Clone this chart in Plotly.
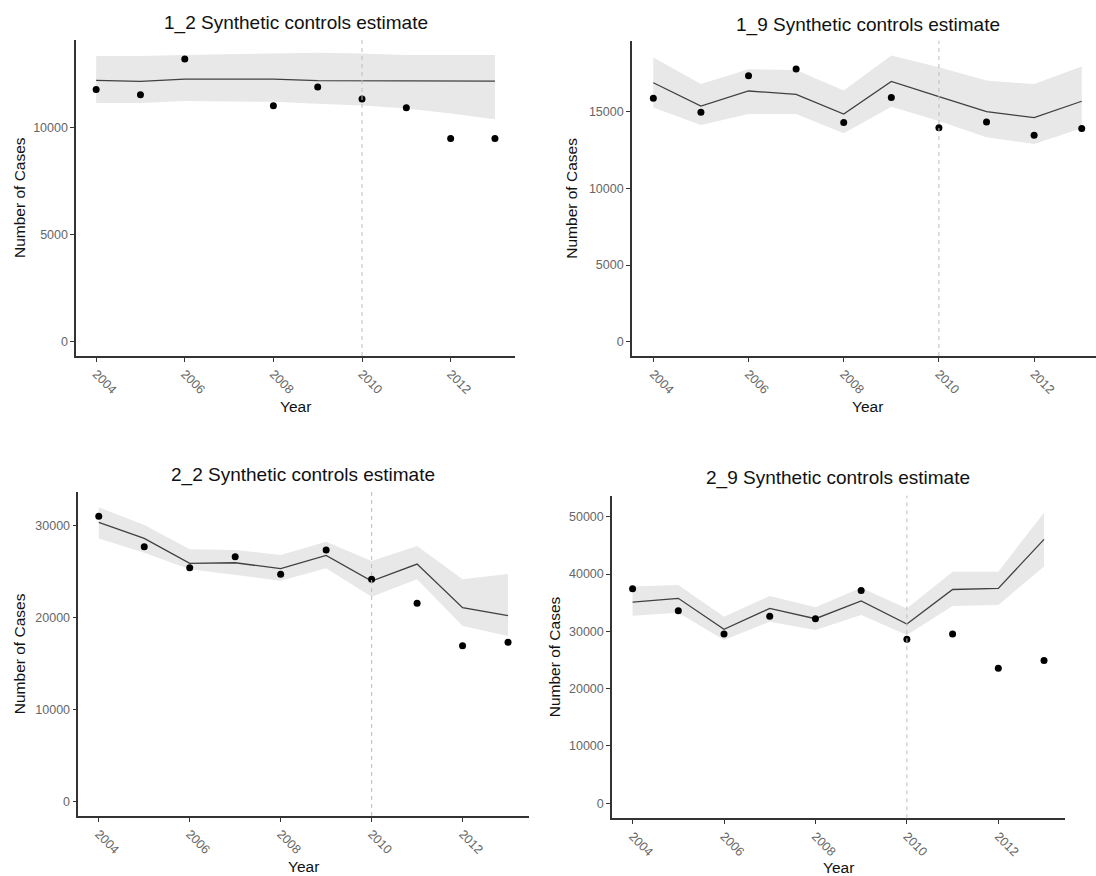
import plotly.graph_objects as go

W, H = 1096, 876

years = [2004, 2005, 2006, 2007, 2008, 2009, 2010, 2011, 2012, 2013]
intervention_year = 2010
x_tick_vals = [2004, 2006, 2008, 2010, 2012]

titles = ["1_2 Synthetic controls estimate", "1_9 Synthetic controls estimate",
          "2_2 Synthetic controls estimate", "2_9 Synthetic controls estimate"]

# 1_2
obs_1_2 = [11790, 11540, 13210, None, 11030, 11900, 11340, 10930, 9500, 9500]
est_1_2 = [12210, 12170, 12270, 12270, 12270, 12200, 12200, 12180, 12180, 12180]
up_1_2 = [13350, 13350, 13400, 13430, 13470, 13500, 13470, 13400, 13400, 13400]
lo_1_2 = [11150, 11150, 11250, 11230, 11210, 11120, 11040, 10900, 10670, 10390]
yticks_1_2 = [0, 5000, 10000]

# 1_9
obs_1_9 = [15870, 14960, 17350, 17780, 14300, 15930, 13960, 14320, 13460, 13900]
est_1_9 = [16890, 15370, 16350, 16130, 14850, 16970, 15980, 15000, 14610, 15680]
up_1_9 = [18540, 16800, 17760, 17720, 16390, 18670, 17900, 17030, 16800, 17940]
lo_1_9 = [15280, 14130, 14850, 14850, 13590, 15330, 14400, 13330, 12900, 13920]
yticks_1_9 = [0, 5000, 10000, 15000]

# 2_2
obs_2_2 = [31050, 27750, 25460, 26660, 24740, 27390, 24200, 21590, 16980, 17340]
est_2_2 = [30400, 28650, 25930, 26000, 25350, 26800, 24000, 25860, 21110, 20240]
up_2_2 = [32030, 30100, 27460, 27380, 26840, 28290, 26190, 27820, 24200, 24780]
lo_2_2 = [28650, 27100, 25280, 24660, 24050, 25390, 22300, 24200, 19120, 18030]
yticks_2_2 = [0, 10000, 20000, 30000]

# 2_9
obs_2_9 = [37440, 33600, 29530, 32620, 32200, 37100, 28600, 29530, 23550, 24900]
est_2_9 = [35100, 35760, 30350, 34000, 32200, 35300, 31270, 37300, 37500, 46050]
up_2_9 = [37800, 38080, 32560, 36160, 34190, 37600, 34000, 40400, 40400, 50700]
lo_2_9 = [32730, 33260, 28490, 31690, 30230, 32850, 29360, 34400, 34600, 41300]
yticks_2_9 = [0, 10000, 20000, 30000, 40000, 50000]

panels = [
    dict(obs=obs_1_2, est=est_1_2, up=up_1_2, lo=lo_1_2, yt=yticks_1_2,
         box=(76.2, 514.9, 40, 356), xr=[2003.55, 2013.45], yr=[-670, 14100],
         tpos=(295.5, 22.7), ylab=(19, 198), xlab=(295.5, 406)),
    dict(obs=obs_1_9, est=est_1_9, up=up_1_9, lo=lo_1_9, yt=yticks_1_9,
         box=(631.9, 1096, 40.7, 356), xr=[2003.55, 2013.30], yr=[-935, 19630],
         tpos=(867.5, 25), ylab=(570.7, 198), xlab=(867, 406)),
    dict(obs=obs_2_2, est=est_2_2, up=up_2_2, lo=lo_2_2, yt=yticks_2_2,
         box=(78.3, 528.5, 491.7, 816), xr=[2003.55, 2013.45], yr=[-1560, 33730],
         tpos=(303.3, 475), ylab=(19.2, 654), xlab=(303.3, 866.7)),
    dict(obs=obs_2_9, est=est_2_9, up=up_2_9, lo=lo_2_9, yt=yticks_2_9,
         box=(612, 1064.6, 495.7, 818.3), xr=[2003.55, 2013.45], yr=[-2620, 53660],
         tpos=(838, 478), ylab=(554.3, 657), xlab=(838, 867.7)),
]

FONT = "Arial, Liberation Sans, sans-serif"
BAND = "#e8e8e8"
LINE = "#404040"
AXIS = "#333333"
TICKTXT = "#666666"

fig = go.Figure()
layout = dict(width=W, height=H, margin=dict(l=0, r=0, t=0, b=0),
              paper_bgcolor="white", plot_bgcolor="white", showlegend=False,
              annotations=[], shapes=[])

for i, p in enumerate(panels, start=1):
    xa = "x" if i == 1 else f"x{i}"
    ya = "y" if i == 1 else f"y{i}"
    # ribbon
    fig.add_trace(go.Scatter(x=years, y=p["lo"], mode="lines", line=dict(width=0, color=BAND),
                             xaxis=xa, yaxis=ya, hoverinfo="skip"))
    fig.add_trace(go.Scatter(x=years, y=p["up"], mode="lines", line=dict(width=0, color=BAND),
                             fill="tonexty", fillcolor=BAND, xaxis=xa, yaxis=ya, hoverinfo="skip"))
    # estimate line
    fig.add_trace(go.Scatter(x=years, y=p["est"], mode="lines", line=dict(width=1.3, color=LINE),
                             xaxis=xa, yaxis=ya))
    # observed points
    fig.add_trace(go.Scatter(x=years, y=p["obs"], mode="markers",
                             marker=dict(size=7, color="black"), xaxis=xa, yaxis=ya))

    x0, x1, y0, y1 = p["box"]
    xkey = "xaxis" if i == 1 else f"xaxis{i}"
    ykey = "yaxis" if i == 1 else f"yaxis{i}"
    layout[xkey] = dict(domain=[x0 / W, x1 / W], anchor=ya, range=p["xr"],
                        tickvals=x_tick_vals, ticktext=[str(v) for v in x_tick_vals],
                        tickangle=45, showgrid=False, zeroline=False,
                        showline=True, linecolor=AXIS, linewidth=1.5,
                        ticks="outside", ticklen=4, tickcolor=AXIS, tickwidth=1.2,
                        tickfont=dict(family=FONT, size=12.5, color=TICKTXT))
    layout[ykey] = dict(domain=[1 - y1 / H, 1 - y0 / H], anchor=xa, range=p["yr"],
                        tickvals=p["yt"], ticktext=[str(v) for v in p["yt"]],
                        showgrid=False, zeroline=False,
                        showline=True, linecolor=AXIS, linewidth=1.5,
                        ticks="outside", ticklen=4, tickcolor=AXIS, tickwidth=1.2,
                        tickfont=dict(family=FONT, size=12.5, color=TICKTXT))
    # intervention line
    layout["shapes"].append(dict(type="line", xref=xa, yref=f"{ya} domain",
                                 x0=intervention_year, x1=intervention_year, y0=0, y1=1,
                                 line=dict(color="#bdbdbd", width=1, dash="4px,4px"), layer="above"))
    # titles
    tx, ty = p["tpos"]
    layout["annotations"].append(dict(text=titles[i - 1], x=tx / W, y=1 - ty / H, xref="paper", yref="paper",
                                      xanchor="center", yanchor="middle", showarrow=False,
                                      font=dict(family=FONT, size=19, color="#111111")))
    lx, ly = p["ylab"]
    layout["annotations"].append(dict(text="Number of Cases", x=lx / W, y=1 - ly / H, xref="paper", yref="paper",
                                      xanchor="center", yanchor="middle", showarrow=False, textangle=-90,
                                      font=dict(family=FONT, size=15.5, color="#111111")))
    bx, by = p["xlab"]
    layout["annotations"].append(dict(text="Year", x=bx / W, y=1 - by / H, xref="paper", yref="paper",
                                      xanchor="center", yanchor="middle", showarrow=False,
                                      font=dict(family=FONT, size=15.5, color="#111111")))

fig.update_layout(**layout)
fig.write_html("out.html")
